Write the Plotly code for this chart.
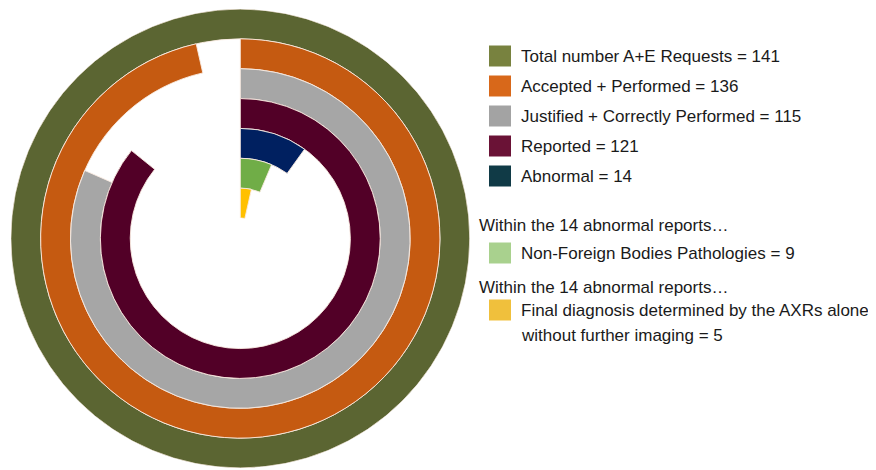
import plotly.graph_objects as go

# ---- data (outer ring -> inner ring) ----
labels = [
    "Total number A+E Requests",
    "Accepted + Performed",
    "Justified + Correctly Performed",
    "Reported",
    "Abnormal",
    "Non-Foreign Bodies Pathologies",
    "Final diagnosis determined by the AXRs alone<br>without further imaging",
]
values = [141, 136, 115, 121, 14, 9, 5]
total = 141
group_titles = [None, None, None, None, None,
                "Within the 14 abnormal reports…",
                "Within the 14 abnormal reports…"]

ring_colors = ["#5b6532", "#c55a11", "#a6a6a6", "#520027", "#002060", "#70ad47", "#ffc000"]
swatch_colors = ["#78823f", "#d8681a", "#a3a3a3", "#6a1236", "#103a46", "#a9d18e", "#f0c03c"]

W, H = 876, 470
OFF = 8  # page body margin offset
n = len(values)

deg = [v / total * 360 for v in values]
fig = go.Figure()
fig.add_trace(go.Barpolar(
    r=[1] * n,
    base=[n - 1 - i for i in range(n)],
    theta=[d / 2 for d in deg],
    width=deg,
    marker=dict(color=ring_colors, line=dict(color="rgba(250,235,225,0.9)", width=1)),
    showlegend=False,
    hoverinfo="skip",
))

cx, cy, R = 240.3 - OFF, 238.5 - OFF, 229.5
fig.update_layout(
    width=W, height=H,
    margin=dict(l=0, r=0, t=0, b=0),
    paper_bgcolor="white",
    plot_bgcolor="white",
    polar=dict(
        domain=dict(x=[(cx - R) / W, (cx + R) / W], y=[1 - (cy + R) / H, 1 - (cy - R) / H]),
        hole=20.5 / 229.5,
        bgcolor="white",
        radialaxis=dict(range=[0, n], visible=False),
        angularaxis=dict(rotation=90, direction="clockwise", visible=False),
    ),
    font=dict(family="Liberation Sans, Arial, sans-serif", size=17, color="#1a1a1a"),
)

# ---- manual legend ----
shapes, anns = [], []
row_y = [56, 86, 116, 146, 176, 253, 310]
title_y = {5: 225, 6: 287}
sx0, sx1, tx, gx = 489 - OFF, 511 - OFF, 519 - OFF, 477 - OFF
for i in range(n):
    y = row_y[i] - OFF
    shapes.append(dict(type="rect", xref="paper", yref="paper",
                       x0=sx0 / W, x1=sx1 / W, y0=1 - (y + 10.5) / H, y1=1 - (y - 10.5) / H,
                       fillcolor=swatch_colors[i], line=dict(width=0)))
    parts = labels[i].split("<br>")
    parts[-1] = parts[-1] + " = " + str(values[i])
    for j, p in enumerate(parts):
        anns.append(dict(xref="paper", yref="paper", x=tx / W, y=1 - (y + 25 * j) / H,
                         text=p, showarrow=False, xanchor="left", yanchor="middle"))
    if group_titles[i]:
        anns.append(dict(xref="paper", yref="paper", x=gx / W, y=1 - (title_y[i] - OFF) / H,
                         text=group_titles[i], showarrow=False, xanchor="left", yanchor="middle"))
fig.update_layout(shapes=shapes, annotations=anns)

fig.write_html("out.html")
